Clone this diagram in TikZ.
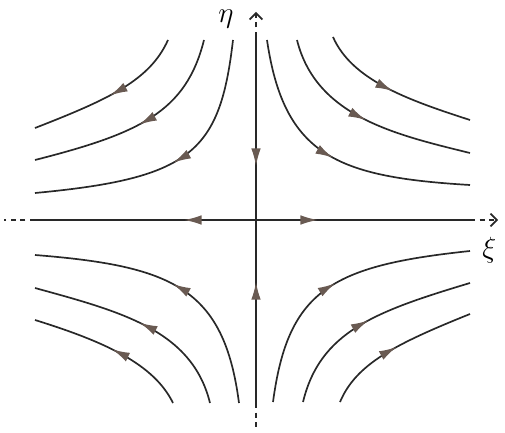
\documentclass[tikz,border=0pt]{standalone}
\usepackage{amsmath}
\usepackage{xcolor}
\usetikzlibrary{arrows.meta,decorations.markings}
\definecolor{arrowbrown}{RGB}{105,90,82}
\definecolor{inkgray}{RGB}{40,40,40}

\begin{document}
\begin{tikzpicture}[x=1cm,y=1cm,
  orbit/.style={line width=1.2pt,inkgray},
  flowarrow/.style={postaction={decorate},decoration={markings,
      mark=at position #1 with {\arrow[arrowbrown]{Latex[length=4.4mm,width=2.4mm]}}}},
  axisend/.style={line width=1.2pt,inkgray,dash pattern=on 1.3mm off 1.1mm}]
\useasboundingbox (-6.4,-5.3) rectangle (6.225,5.5);

% Axes
\draw[orbit,flowarrow=0.705] (0,4.575) -- (0,0);
\draw[orbit,flowarrow=0.661] (0,-4.575) -- (0,0);
\draw[orbit,flowarrow=0.29] (0,0) -- (5.35,0);
\draw[orbit,flowarrow=0.326] (0,0) -- (-5.525,0);
\draw[axisend,-{Straight Barb[length=1.6mm,width=3.2mm]}] (0,4.575) -- (0,5.2);
\draw[axisend] (0,-4.575) -- (0,-5.2);
\draw[axisend,-{Straight Barb[length=1.6mm,width=3.2mm]}] (5.35,0) -- (6.05,0);
\draw[axisend] (-5.525,0) -- (-6.3,0);
\node (eta) at (-0.75,5.02) {\huge $\eta$};
\node (xi) at (5.83,-0.75) {\huge $\xi$};

% upper right quadrant
\draw[orbit,flowarrow=0.5] (0.275,4.5) .. controls (0.7,1.6) and (2.025,1.075) .. (5.35,0.875);
\draw[orbit,flowarrow=0.5] (1.025,4.5) .. controls (1.5,2.6) and (3.442,2.142) .. (5.35,1.675);
\draw[orbit,flowarrow=0.5] (1.925,4.575) .. controls (2.4,3.5) and (3.775,3.008) .. (5.35,2.5);

% upper left quadrant
\draw[orbit,flowarrow=0.5] (-0.575,4.5) .. controls (-0.9,1.7) and (-1.6,1.042) .. (-5.525,0.675);
\draw[orbit,flowarrow=0.5] (-1.3,4.5) .. controls (-1.75,2.7) and (-2.908,2.167) .. (-5.525,1.5);
\draw[orbit,flowarrow=0.5] (-2.2,4.5) .. controls (-2.65,3.5) and (-3.642,3.033) .. (-5.525,2.3);

% lower left quadrant
\draw[orbit,flowarrow=0.5] (-0.425,-4.575) .. controls (-0.8,-1.7) and (-2.083,-1.15) .. (-5.525,-0.875);
\draw[orbit,flowarrow=0.5] (-1.15,-4.575) .. controls (-1.6,-2.75) and (-3.375,-2.292) .. (-5.525,-1.7);
\draw[orbit,flowarrow=0.5] (-2.075,-4.575) .. controls (-2.55,-3.6) and (-3.783,-3.042) .. (-5.525,-2.5);

% lower right quadrant
\draw[orbit,flowarrow=0.5] (0.425,-4.55) .. controls (0.8,-1.75) and (1.875,-1.142) .. (5.35,-0.775);
\draw[orbit,flowarrow=0.5] (1.175,-4.55) .. controls (1.6,-2.8) and (2.958,-2.292) .. (5.35,-1.575);
\draw[orbit,flowarrow=0.5] (2.1,-4.55) .. controls (2.5,-3.6) and (3.483,-3.1) .. (5.35,-2.35);
\end{tikzpicture}
\end{document}
